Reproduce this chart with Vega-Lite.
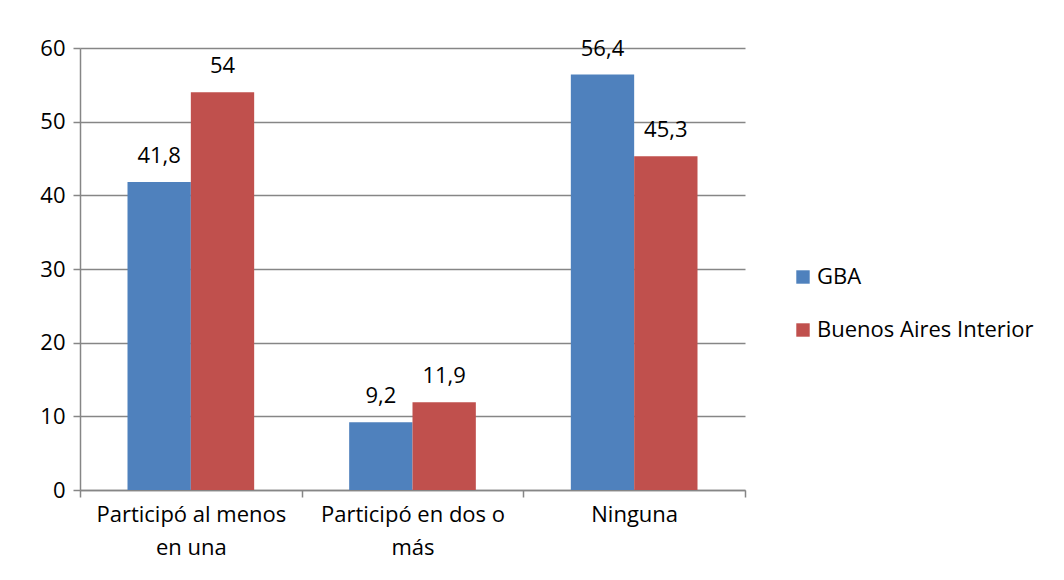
{
  "$schema": "https://vega.github.io/schema/vega-lite/v6.json",
  "autosize": "none",
  "width": 665,
  "height": 442,
  "padding": {"left": 80, "top": 48, "right": 319, "bottom": 90},
  "background": "white",
  "config": {
    "font": "Open Sans",
    "view": {"stroke": null},
    "axis": {"labelFont": "Open Sans", "labelFontSize": 22, "labelColor": "#000000", "domainColor": "#868686", "tickColor": "#868686", "gridColor": "#868686", "domainWidth": 1.5, "tickWidth": 1.5, "gridWidth": 1.5, "domain": true}
  },
  "data": {
    "values": [
      {"cat": "Participó al menos|en una", "serie": "GBA", "valor": 41.8, "txt": "41,8"},
      {"cat": "Participó al menos|en una", "serie": "Buenos Aires Interior", "valor": 54, "txt": "54"},
      {"cat": "Participó en dos o|más", "serie": "GBA", "valor": 9.2, "txt": "9,2"},
      {"cat": "Participó en dos o|más", "serie": "Buenos Aires Interior", "valor": 11.9, "txt": "11,9"},
      {"cat": "Ninguna", "serie": "GBA", "valor": 56.4, "txt": "56,4"},
      {"cat": "Ninguna", "serie": "Buenos Aires Interior", "valor": 45.3, "txt": "45,3"}
    ]
  },
  "encoding": {
    "x": {"field": "cat", "type": "nominal", "sort": null,
      "scale": {"paddingInner": 0, "paddingOuter": 0},
      "axis": {"title": null, "labelAngle": 0, "labelExpr": "split(datum.label, '|')", "tickBand": "extent", "tickSize": 7, "labelPadding": 7, "labelLineHeight": 33, "labelLimit": 0, "grid": false}},
    "xOffset": {"field": "serie", "type": "nominal", "sort": ["GBA", "Buenos Aires Interior"], "scale": {"paddingInner": 0, "paddingOuter": 0.75}},
    "y": {"field": "valor", "type": "quantitative",
      "scale": {"domain": [0, 60], "nice": false},
      "axis": {"title": null, "values": [0, 10, 20, 30, 40, 50, 60], "tickSize": 7, "labelPadding": 8, "grid": true}}
  },
  "layer": [
    {
      "mark": {"type": "bar"},
      "encoding": {
        "color": {"field": "serie", "type": "nominal", "sort": ["GBA", "Buenos Aires Interior"],
          "scale": {"domain": ["GBA", "Buenos Aires Interior"], "range": ["#4F81BD", "#C0504D"]},
          "legend": {"title": null, "orient": "none", "legendX": 712, "legendY": 218, "symbolType": "square", "symbolSize": 180, "symbolStrokeWidth": 0, "labelFontSize": 22, "labelFont": "Open Sans", "labelColor": "#000000", "labelLimit": 0, "rowPadding": 31, "labelOffset": 3}}
      }
    },
    {
      "mark": {"type": "text", "baseline": "bottom", "dy": -14, "fontSize": 22, "font": "Open Sans", "color": "#000000"},
      "encoding": {"text": {"field": "txt"}}
    }
  ]
}
